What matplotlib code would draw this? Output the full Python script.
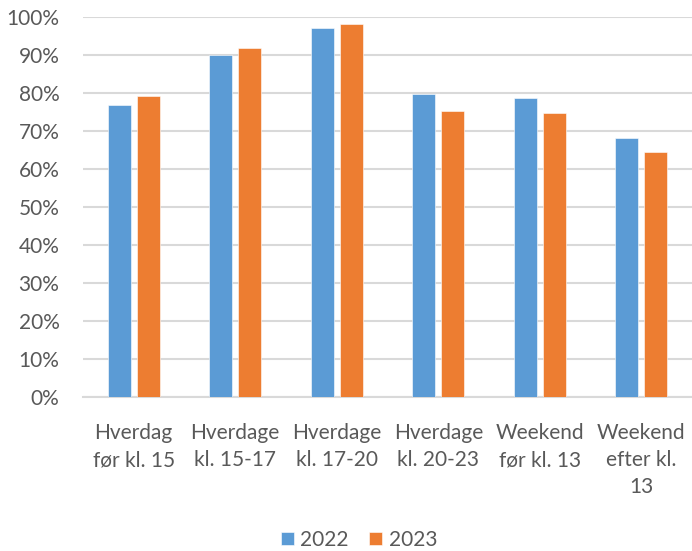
import matplotlib
matplotlib.use("Agg")
import matplotlib.pyplot as plt
import numpy as np
from matplotlib.ticker import PercentFormatter

plt.rcParams['font.family'] = ['Lato', 'DejaVu Sans']

categories = ["Hverdag\nfør kl. 15", "Hverdage\nkl. 15-17", "Hverdage\nkl. 17-20",
              "Hverdage\nkl. 20-23", "Weekend\nfør kl. 13", "Weekend\nefter kl.\n13"]
values_2022 = [76.8, 90.0, 97.1, 79.6, 78.6, 68.1]
values_2023 = [79.1, 91.8, 98.2, 75.3, 74.8, 64.4]
series_labels = ["2022", "2023"]

blue = "#5B9BD5"
orange = "#ED7D31"
text_color = "#595959"
grid_color = "#D9D9D9"

fig = plt.figure(figsize=(6.92, 5.51), dpi=100)
ax = fig.add_axes([83 / 692, 1 - 397 / 551, (692 - 83) / 692, (397 - 16.7) / 551])

x = np.arange(len(categories))
width = 0.227
offset = 0.143
ax.bar(x - offset, values_2022, width, color=blue, edgecolor="white", linewidth=0.4,
       label=series_labels[0], zorder=3)
ax.bar(x + offset, values_2023, width, color=orange, edgecolor="white", linewidth=0.4,
       label=series_labels[1], zorder=3)

ax.set_xlim(-0.5, len(categories) - 0.5)
ax.set_ylim(0, 100)
ax.set_yticks(np.arange(0, 101, 10))
ax.yaxis.set_major_formatter(PercentFormatter(decimals=0))
ax.yaxis.grid(True, color=grid_color, linewidth=1.5, zorder=0)
ax.set_axisbelow(True)

for s in ["top", "right", "left"]:
    ax.spines[s].set_visible(False)
ax.spines["bottom"].set_color(grid_color)
ax.spines["bottom"].set_linewidth(1.5)

ax.set_xticks(x)
ax.set_xticklabels(categories, fontsize=15, color=text_color, linespacing=1.42,
                   va="top")
ax.tick_params(axis="x", length=0, pad=19)
ax.tick_params(axis="y", length=0, pad=17, labelsize=15, labelcolor=text_color)

leg = fig.legend(loc="center", bbox_to_anchor=(359 / 692, 1 - 540 / 551), ncol=2,
                 frameon=False, fontsize=15, handlelength=0.62, handleheight=0.62,
                 handletextpad=0.3, columnspacing=1.0)
for t in leg.get_texts():
    t.set_color(text_color)

fig.savefig("out.png", dpi=100)
